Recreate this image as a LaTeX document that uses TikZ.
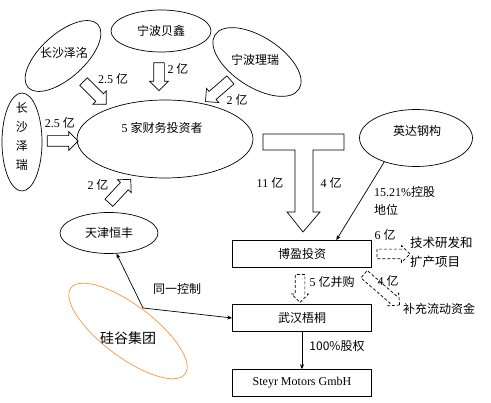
\documentclass[tikz,border=0pt]{standalone}
\usepackage{fontspec}
\setmainfont{Liberation Serif}
\newfontfamily\cjk{Noto Sans CJK SC}
\usetikzlibrary{shapes.geometric,shapes.arrows,arrows.meta}
\definecolor{gugucol}{RGB}{247,150,70}

\begin{document}
\begin{tikzpicture}[x=1pt,y=-1pt,font=\fontsize{12}{15}\selectfont,
  inv/.style={ellipse,draw,line width=0.7pt,inner sep=0pt},
  box/.style={rectangle,draw,line width=0.7pt,minimum width=139pt,minimum height=27pt},
  fatarrow/.style={single arrow,draw,line width=0.7pt,inner sep=5pt,single arrow head extend=4pt,minimum height=#1},
  dasharrow/.style={single arrow,draw,line width=0.7pt,inner sep=4.5pt,single arrow head extend=3.5pt,minimum height=#1,dash pattern=on 3pt off 2pt},
  pointer/.style={line width=0.7pt,-{Stealth[length=5pt,width=4pt]}},
  lbl/.style={inner sep=0pt}]
	\useasboundingbox (0,0) rectangle (491,403);
	% investors
	\node[inv,rotate=42,minimum width=94pt,minimum height=44pt] (zeluo) at (63,56) {};
	\node[lbl] at (64,53) {\cjk 长沙泽洺};
	\node[inv,minimum width=100pt,minimum height=42pt] (beixin) at (161,31) {\cjk 宁波贝鑫};
	\node[inv,rotate=-33,minimum width=100pt,minimum height=50pt] (lirui) at (257,62) {};
	\node[lbl] at (255,60) {\cjk 宁波理瑞};
	\node[inv,minimum width=40pt,minimum height=98pt] (zerui) at (22,142) {};
	\node[lbl,align=center,font=\fontsize{12}{19}\selectfont\cjk] at (22,136) {长\\沙\\泽\\瑞};
	\node[inv,minimum width=176pt,minimum height=78pt] (fivefin) at (165,139) {};
	\node[lbl] at (162,128) {5 {\cjk 家财务投资者}};
	\node[inv,minimum width=98pt,minimum height=41pt] (tianjin) at (109,233) {\cjk 天津恒丰};
	\node[inv,draw=gugucol,rotate=-37,minimum width=143pt,minimum height=52pt] (gugu) at (128,331) {};
	\node[lbl,font=\fontsize{14}{16}\selectfont] at (128,338) {\cjk 硅谷集团};
	\node[inv,minimum width=113pt,minimum height=57pt] (yingda) at (416,138) {};
	\node[lbl] at (417,131) {\cjk 英达钢构};
	% companies
	\node[box] (boying) at (302,254) {\cjk 博盈投资};
	\node[box] (wuhan) at (302,318) {\cjk 武汉梧桐};
	\node[box] (steyr) at (302,383) {Steyr Motors GmbH};
	% funds into the investors
	\node[fatarrow=32pt,rotate=-45] (azeluo) at (93,91) {};
	\node[lbl] at (113,79) {2.5 {\cjk 亿}};
	\node[fatarrow=28pt,rotate=-90] (abeixin) at (159,74) {};
	\node[lbl] at (178,69) {2 {\cjk 亿}};
	\node[fatarrow=33pt,rotate=-139] (alirui) at (220,89) {};
	\node[lbl] at (237,100) {2 {\cjk 亿}};
	\node[fatarrow=31pt] (azerui) at (60,141) {};
	\node[lbl] at (60,123) {2.5 {\cjk 亿}};
	\node[fatarrow=32pt,rotate=47] (atianjin) at (118,193) {};
	\node[lbl] at (98,185) {2 {\cjk 亿}};
	% T
	\draw[line width=0.7pt] (263,134) -- (344,134) -- (344,150) -- (313,150) -- (313,212) -- (320,212)
		-- (303,232) -- (287,212) -- (295,212) -- (295,150) -- (263,150) -- cycle;
	\node[lbl] at (270,183) {11 {\cjk 亿}};
	\node[lbl] at (331,183) {4 {\cjk 亿}};
	% control
	\draw[pointer] (yingda.217) -- (boying.22);
	\node[lbl,anchor=west] at (374,192) {15.21\%{\cjk 控股}};
	\node[lbl,anchor=west] at (374,210) {\cjk 地位};
	\coordinate (kink) at (143,308);
	\draw[pointer,{Stealth[length=5pt,width=4pt]}-{Stealth[length=5pt,width=4pt]}] (tianjin.290) -- (kink) -- (wuhan.west);
	\node[lbl] at (177,289) {\cjk 同一控制};
	\draw[pointer] (wuhan.south) -- (steyr.north);
	\node[lbl] at (337,346) {\cjk 100\%股权};
	% use of funds
	\node[dasharrow=33pt] (arnd) at (391,254) {};
	\node[lbl] at (385,235) {6 {\cjk 亿}};
	\node[lbl,align=left,anchor=west,font=\fontsize{12.5}{19}\selectfont\cjk] (rnd) at (410,252) {技术研发和\\扩产项目};
	\node[dasharrow=28pt,rotate=-90] (abuy) at (300,286) {};
	\node[lbl] at (332,282) {5 {\cjk 亿并购}};
	\node[dasharrow=47pt,rotate=-41] (acash) at (380,288) {};
	\node[lbl] at (388,281) {4 {\cjk 亿}};
	\node[lbl,anchor=west] (cash) at (403,309) {\cjk 补充流动资金};
\end{tikzpicture}
\end{document}
